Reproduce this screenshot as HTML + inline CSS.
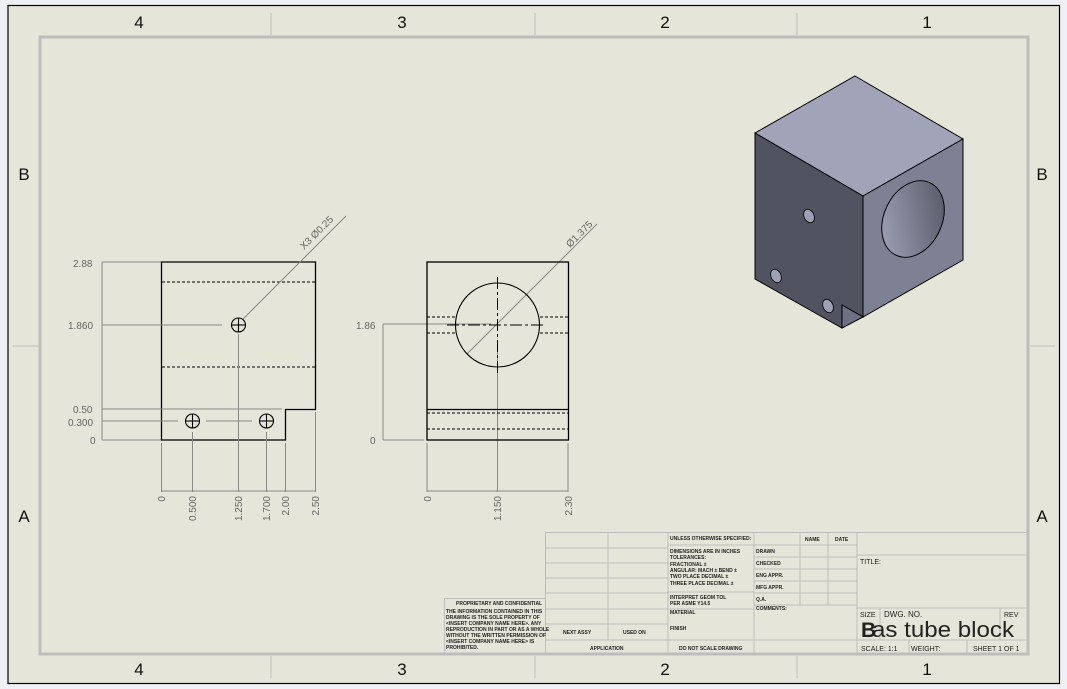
<!DOCTYPE html>
<html><head><meta charset="utf-8"><style>
html,body{margin:0;padding:0;background:#eef0f5;}
svg{display:block;font-family:"Liberation Sans",sans-serif;}
</style></head><body>
<svg width="1067" height="689" viewBox="0 0 1067 689" xmlns="http://www.w3.org/2000/svg">
<rect x="0" y="0" width="1067" height="689" fill="#eef0f5"/>
<rect x="8" y="5.5" width="1051.5" height="678" fill="#e6e5da" stroke="#000" stroke-width="1.2"/>
<rect x="40" y="37" width="988" height="617" fill="none" stroke="#bdbdbd" stroke-width="3"/>
<g stroke="#bdbdbd" stroke-width="1">
<line x1="271" y1="13" x2="271" y2="35"/><line x1="535" y1="13" x2="535" y2="35"/><line x1="797" y1="13" x2="797" y2="35"/>
<line x1="271" y1="656" x2="271" y2="678"/><line x1="535" y1="656" x2="535" y2="678"/><line x1="797" y1="656" x2="797" y2="678"/>
<line x1="12" y1="346" x2="38" y2="346"/><line x1="1030" y1="346" x2="1055" y2="346"/>
</g>
<g font-size="17" fill="#111" text-anchor="middle">
<text x="139" y="28">4</text><text x="402" y="28">3</text><text x="665" y="28">2</text><text x="927" y="28">1</text>
<text x="139" y="675">4</text><text x="402" y="675">3</text><text x="665" y="675">2</text><text x="927" y="675">1</text>
<text x="24" y="180">B</text><text x="1042" y="180">B</text>
<text x="24" y="522">A</text><text x="1042" y="522">A</text>
</g>

<g fill="none" stroke="#000" stroke-width="1.3">
<path d="M161.5 262 H315.5 V409.5 H285.5 V440 H161.5 Z"/>
</g>
<g stroke="#000" stroke-width="1" stroke-dasharray="3,2">
<line x1="162" y1="282" x2="315" y2="282"/><line x1="162" y1="367" x2="315" y2="367"/>
</g>
<g fill="none" stroke="#000" stroke-width="1.1">
<circle cx="238.5" cy="325" r="7"/><line x1="231" y1="325" x2="246" y2="325"/><line x1="238.5" y1="318" x2="238.5" y2="332"/>
<circle cx="192.5" cy="421" r="7"/><line x1="185" y1="421" x2="200" y2="421"/><line x1="192.5" y1="414" x2="192.5" y2="428"/>
<circle cx="266.5" cy="421" r="7"/><line x1="259" y1="421" x2="274" y2="421"/><line x1="266.5" y1="414" x2="266.5" y2="428"/>
</g>
<g stroke="#888" stroke-width="1" fill="none">
<line x1="102" y1="262" x2="161" y2="262"/>
<line x1="102" y1="325" x2="222" y2="325"/>
<line x1="102" y1="409" x2="282" y2="409"/>
<line x1="102" y1="421" x2="178" y2="421"/><line x1="206" y1="421" x2="252" y2="421"/>
<line x1="102" y1="440" x2="161" y2="440"/>
<line x1="102" y1="262" x2="102" y2="440"/>
<line x1="161.5" y1="443" x2="161.5" y2="492"/>
<line x1="192.5" y1="432" x2="192.5" y2="492"/>
<line x1="238.5" y1="334" x2="238.5" y2="492"/>
<line x1="266.5" y1="432" x2="266.5" y2="492"/>
<line x1="285.5" y1="443" x2="285.5" y2="492"/>
<line x1="315.5" y1="412" x2="315.5" y2="492"/>
<line x1="161.5" y1="491" x2="315.5" y2="491"/>
<line x1="243" y1="319" x2="346" y2="216"/>
<line x1="427" y1="324" x2="491" y2="324"/>
<line x1="383" y1="324" x2="427" y2="324"/><line x1="383" y1="440" x2="424" y2="440"/>
<line x1="383" y1="324" x2="383" y2="440"/>
<line x1="427" y1="443" x2="427" y2="492"/><line x1="568" y1="443" x2="568" y2="492"/>
<line x1="497.5" y1="347" x2="497.5" y2="492"/>
<line x1="427" y1="491" x2="568" y2="491"/>
<line x1="467" y1="354" x2="597" y2="224"/>
</g>
<g font-size="10" fill="#666">
<text x="73" y="267">2.88</text><text x="68" y="329">1.860</text><text x="73" y="413">0.50</text><text x="68" y="426">0.300</text><text x="90" y="444">0</text>
<text x="370" y="444">0</text><text x="356" y="329">1.86</text>
<text transform="translate(304,250) rotate(-45)">X3 Ø0.25</text>
<text transform="translate(570,248) rotate(-45)">Ø1.375</text>
</g>
<g font-size="10" fill="#666" text-anchor="end">
<text transform="translate(165,496) rotate(-90)">0</text>
<text transform="translate(196,496) rotate(-90)">0.500</text>
<text transform="translate(242,496) rotate(-90)">1.250</text>
<text transform="translate(270,496) rotate(-90)">1.700</text>
<text transform="translate(289,496) rotate(-90)">2.00</text>
<text transform="translate(319,496) rotate(-90)">2.50</text>
<text transform="translate(431,496) rotate(-90)">0</text>
<text transform="translate(501,496) rotate(-90)">1.150</text>
<text transform="translate(572,496) rotate(-90)">2.30</text>
</g>

<rect x="427" y="262" width="141.5" height="178" fill="none" stroke="#000" stroke-width="1.3"/>
<line x1="427" y1="409.5" x2="568" y2="409.5" stroke="#000" stroke-width="1.3"/>
<g stroke="#000" stroke-width="1" stroke-dasharray="3,2">
<line x1="427" y1="413" x2="568" y2="413"/><line x1="427" y1="429" x2="568" y2="429"/>
<line x1="427" y1="317" x2="455" y2="317"/><line x1="427" y1="333" x2="455" y2="333"/>
<line x1="540" y1="317" x2="568" y2="317"/><line x1="540" y1="333" x2="568" y2="333"/>
</g>
<circle cx="497.5" cy="325" r="42" fill="none" stroke="#000" stroke-width="1.1"/>
<g stroke="#000" stroke-width="1" stroke-dasharray="12,3,3,3">
<line x1="447" y1="325" x2="546" y2="325"/><line x1="497.5" y1="277" x2="497.5" y2="373"/>
</g>

<g stroke="#000" stroke-width="1">
<polygon points="855,76 963,139 863,196 755,133" fill="#a1a4b9"/>
<polygon points="755,133 863,196 863,317 842,305 842,328 755,279" fill="#515460"/>
<polygon points="863,196 963,139 963,260 863,317" fill="#7e8194"/>
<polygon points="842,305 863,317 842,328" fill="#6e7184"/>
</g>
<defs><linearGradient id="g1" x1="0" y1="1" x2="1" y2="0"><stop offset="0" stop-color="#a6a9bf"/><stop offset="1" stop-color="#4f525e"/></linearGradient></defs>
<ellipse cx="913" cy="219" rx="29" ry="40" transform="rotate(25 913 219)" fill="url(#g1)" stroke="#000" stroke-width="1"/>
<g fill="#9ea1b5" stroke="#000" stroke-width="0.8">
<ellipse cx="809" cy="216" rx="5" ry="7" transform="rotate(-25 809 216)"/>
<ellipse cx="776" cy="276" rx="5" ry="7" transform="rotate(-25 776 276)"/>
<ellipse cx="828" cy="306" rx="5" ry="7" transform="rotate(-25 828 306)"/>
</g>

<g stroke="#bdbdbd" stroke-width="1" fill="none">
<rect x="545.5" y="532.5" width="482" height="122"/>
<line x1="608" y1="533" x2="608" y2="640"/><line x1="668" y1="533" x2="668" y2="654"/>
<line x1="546" y1="548" x2="668" y2="548"/><line x1="546" y1="563" x2="668" y2="563"/><line x1="546" y1="578" x2="668" y2="578"/>
<line x1="546" y1="593" x2="668" y2="593"/><line x1="546" y1="609" x2="668" y2="609"/><line x1="546" y1="624" x2="668" y2="624"/>
<line x1="546" y1="640" x2="857" y2="640"/>
<line x1="754" y1="533" x2="754" y2="654"/>
<line x1="668" y1="545" x2="754" y2="545"/><line x1="668" y1="592" x2="754" y2="592"/><line x1="668" y1="609" x2="754" y2="609"/>
<line x1="754" y1="545" x2="857" y2="545"/><line x1="754" y1="557" x2="857" y2="557"/><line x1="754" y1="569" x2="857" y2="569"/>
<line x1="754" y1="581" x2="857" y2="581"/><line x1="754" y1="593" x2="857" y2="593"/><line x1="754" y1="605" x2="857" y2="605"/>
<line x1="800" y1="533" x2="800" y2="605"/><line x1="828" y1="533" x2="828" y2="605"/>
<line x1="857" y1="533" x2="857" y2="654"/>
<line x1="857" y1="555" x2="1028" y2="555"/><line x1="857" y1="608" x2="1028" y2="608"/><line x1="857" y1="640" x2="1028" y2="640"/>
<line x1="880" y1="608" x2="880" y2="640"/><line x1="1000" y1="608" x2="1000" y2="640"/>
<line x1="909" y1="640" x2="909" y2="654"/><line x1="967" y1="640" x2="967" y2="654"/>
<rect x="444.5" y="598.5" width="101" height="56"/>
</g>
<g font-size="5" fill="#222" font-weight="bold">
<text x="670" y="540">UNLESS OTHERWISE SPECIFIED:</text>
<text x="670" y="553">DIMENSIONS ARE IN INCHES</text><text x="670" y="559">TOLERANCES:</text>
<text x="670" y="566">FRACTIONAL ±</text><text x="670" y="572">ANGULAR: MACH ±  BEND ±</text>
<text x="670" y="578">TWO PLACE DECIMAL  ±</text><text x="670" y="585">THREE PLACE DECIMAL  ±</text>
<text x="670" y="599">INTERPRET GEOM TOL</text><text x="670" y="605">PER ASME Y14.5</text>
<text x="670" y="614">MATERIAL</text><text x="670" y="630">FINISH</text>
<text x="679" y="650">DO NOT SCALE DRAWING</text>
<text x="590" y="650">APPLICATION</text>
<text x="563" y="634">NEXT ASSY</text><text x="623" y="634">USED ON</text>
<text x="805" y="541">NAME</text><text x="835" y="541">DATE</text>
<text x="756" y="553">DRAWN</text><text x="756" y="565">CHECKED</text><text x="756" y="577">ENG APPR.</text>
<text x="756" y="589">MFG APPR.</text><text x="756" y="601">Q.A.</text><text x="756" y="610">COMMENTS:</text>
<text x="456" y="605">PROPRIETARY AND CONFIDENTIAL</text>
<text x="446" y="613">THE INFORMATION CONTAINED IN THIS</text>
<text x="446" y="619">DRAWING IS THE SOLE PROPERTY OF</text>
<text x="446" y="625">&lt;INSERT COMPANY NAME HERE&gt;. ANY</text>
<text x="446" y="631">REPRODUCTION IN PART OR AS A WHOLE</text>
<text x="446" y="637">WITHOUT THE WRITTEN PERMISSION OF</text>
<text x="446" y="643">&lt;INSERT COMPANY NAME HERE&gt; IS</text>
<text x="446" y="649">PROHIBITED.</text>
</g>
<g fill="#222">
<text x="860" y="564" font-size="7">TITLE:</text>
<text x="860" y="617" font-size="7">SIZE</text><text x="884" y="617" font-size="8">DWG. NO.</text><text x="1004" y="617" font-size="7">REV</text>
<text x="861" y="637" font-size="21" font-weight="bold">B</text>
<text x="872" y="637" font-size="22" textLength="142" lengthAdjust="spacingAndGlyphs">as tube block</text>
<text x="861" y="651" font-size="7">SCALE: 1:1</text><text x="911" y="651" font-size="7">WEIGHT:</text><text x="973" y="651" font-size="7">SHEET 1 OF 1</text>
</g>
</svg>
</body></html>
